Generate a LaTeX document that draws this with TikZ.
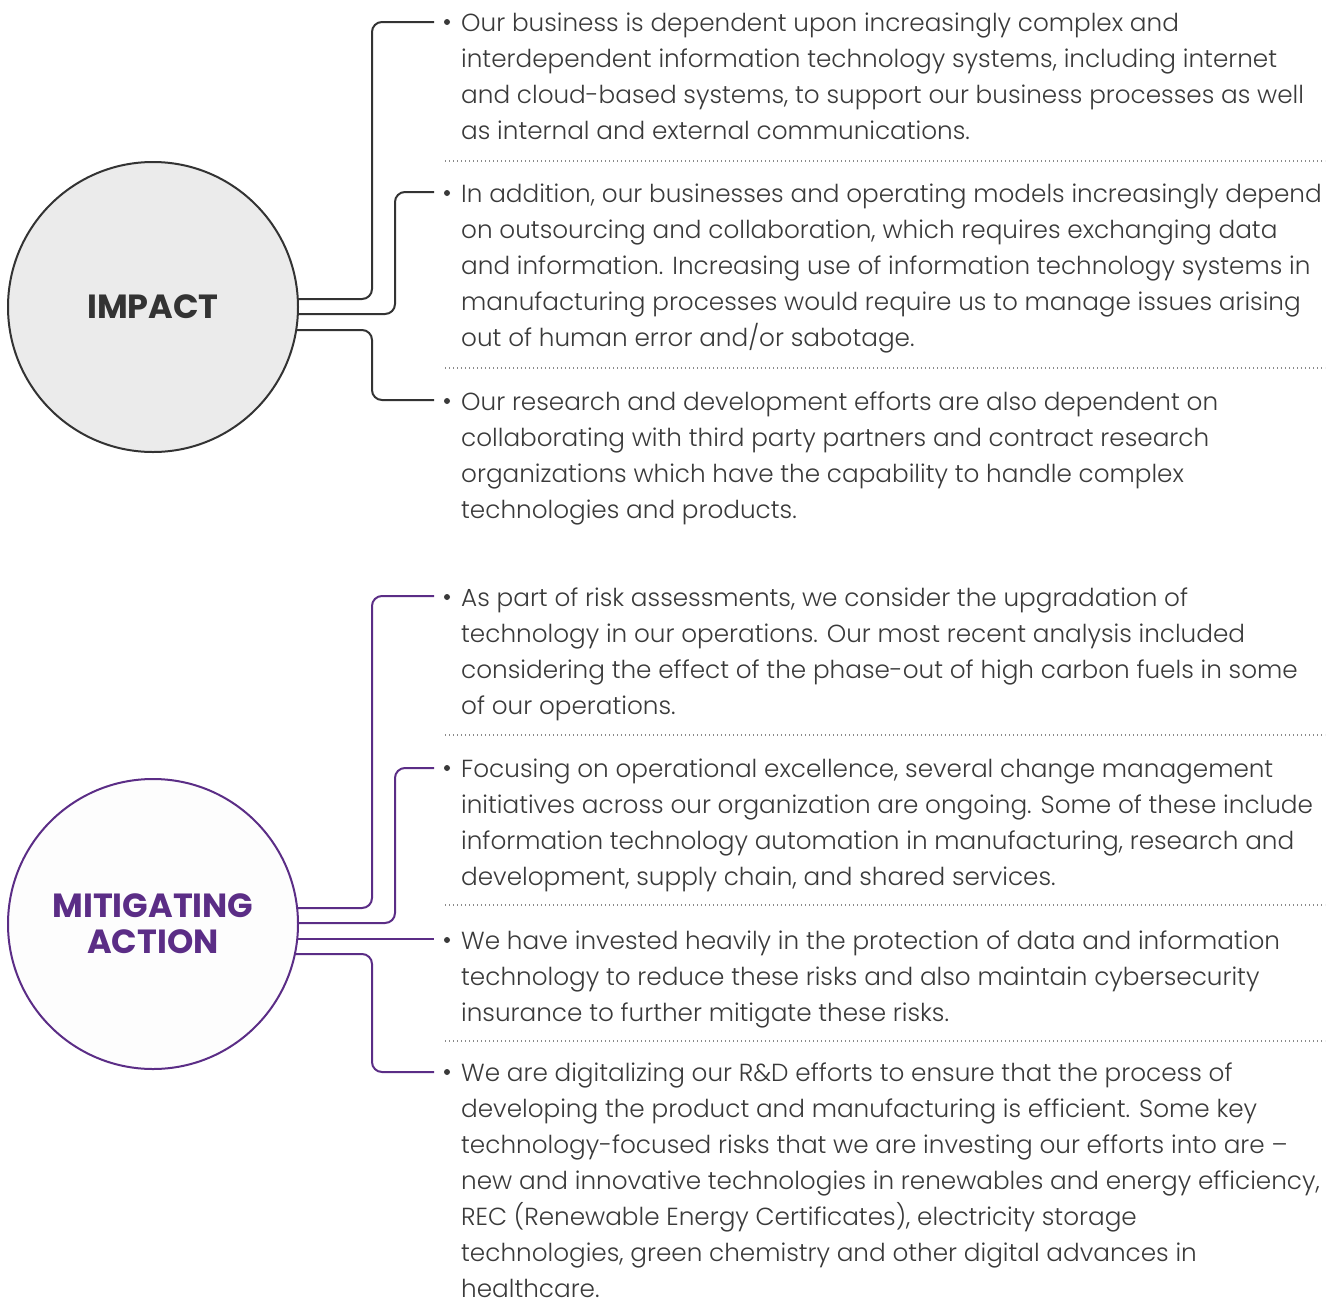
\documentclass[tikz,border=0pt]{standalone}
\usepackage{fontspec}
\IfFontExistsTF{Poppins Light}{\newfontfamily\bodyfont{Poppins Light}}{\newfontfamily\bodyfont{Poppins}}
\IfFontExistsTF{Poppins Bold}{\newfontfamily\headfont{Poppins Bold}}{\newfontfamily\headfont{Poppins}[UprightFont=*Bold]}
\definecolor{ink}{HTML}{333333}
\definecolor{txt}{HTML}{3A3A3A}
\definecolor{purp}{HTML}{5B2D86}
\definecolor{impfill}{HTML}{EBEBEB}
\definecolor{mitfill}{HTML}{FDFDFD}
\definecolor{dotc}{HTML}{8A8A8A}
\pgfdeclarelayer{bg}
\pgfsetlayers{bg,main}
\newcommand\mystrut{\vrule height 20pt width 0pt}
\begin{document}
\begin{tikzpicture}[x=1pt,y=-1pt,
  blk/.style={anchor=north west, inner sep=0pt, align=left,
    font=\bodyfont\fontsize{24.7}{36}\selectfont, text=txt},
  dot/.style={circle, fill=txt, inner sep=0pt, minimum size=6pt},
  conn/.style={line width=2pt, rounded corners=10pt},
  sep/.style={dotc, line width=1.2pt, dash pattern=on 1.2pt off 2.8pt},
  hub/.style={circle, minimum size=290pt, inner sep=0pt, line width=2pt, align=center}]
\useasboundingbox (0,0) rectangle (1333,1301);

% hubs
\node[hub, draw=ink, fill=impfill, text=ink,
  font=\headfont\fontsize{33.5}{36}\selectfont] (imp) at (153,307) {IMPACT};
\node[hub, draw=purp, fill=mitfill, text=purp,
  font=\headfont\fontsize{33.5}{36}\selectfont] (mit) at (153,924) {MITIGATING\\ACTION};

% text blocks (first baseline = y + 20)
\node[blk] (t1) at (461,11) {\mystrut Our business is dependent upon increasingly complex and\\
interdependent information technology systems, including internet\\
and cloud-based systems, to support our business processes as well\\
as internal and external communications.};
\node[blk] (t2) at (461,182) {\mystrut In addition, our businesses and operating models increasingly depend\\
on outsourcing and collaboration, which requires exchanging data\\
and information. Increasing use of information technology systems in\\
manufacturing processes would require us to manage issues arising\\
out of human error and/or sabotage.};
\node[blk] (t3) at (461,390) {\mystrut Our research and development efforts are also dependent on\\
collaborating with third party partners and contract research\\
organizations which have the capability to handle complex\\
technologies and products.};
\node[blk] (t4) at (461,586) {\mystrut As part of risk assessments, we consider the upgradation of\\
technology in our operations. Our most recent analysis included\\
considering the effect of the phase-out of high carbon fuels in some\\
of our operations.};
\node[blk] (t5) at (461,757) {\mystrut Focusing on operational excellence, several change management\\
initiatives across our organization are ongoing. Some of these include\\
information technology automation in manufacturing, research and\\
development, supply chain, and shared services.};
\node[blk] (t6) at (461,929) {\mystrut We have invested heavily in the protection of data and information\\
technology to reduce these risks and also maintain cybersecurity\\
insurance to further mitigate these risks.};
\node[blk] (t7) at (461,1061) {\mystrut We are digitalizing our R\&D efforts to ensure that the process of\\
developing the product and manufacturing is efficient. Some key\\
technology-focused risks that we are investing our efforts into are –\\
new and innovative technologies in renewables and energy efficiency,\\
REC (Renewable Energy Certificates), electricity storage\\
technologies, green chemistry and other digital advances in\\
healthcare.};

% bullets
\node[dot] (d1) at (447,22) {};
\node[dot] (d2) at (447,193) {};
\node[dot] (d3) at (447,401) {};
\node[dot] (d4) at (447,597) {};
\node[dot] (d5) at (447,768) {};
\node[dot] (d6) at (447,940) {};
\node[dot] (d7) at (447,1072) {};

% connector ends
\coordinate (e1) at (434,22);
\coordinate (e2) at (434,192);
\coordinate (e3) at (434,400);
\coordinate (e4) at (434,596);
\coordinate (e5) at (434,768);
\coordinate (e6) at (434,939);
\coordinate (e7) at (434,1072);

\begin{pgfonlayer}{bg}
\draw[conn, ink] (imp.center |- 0,299) -| (372,22) -- (e1);
\draw[conn, ink] (imp.center |- 0,314) -| (395,192) -- (e2);
\draw[conn, ink] (imp.center |- 0,330) -| (372,400) -- (e3);
\draw[conn, purp] (mit.center |- 0,908) -| (372,596) -- (e4);
\draw[conn, purp] (mit.center |- 0,923) -| (395,768) -- (e5);
\draw[conn, purp] (mit.center |- 0,939) -- (e6);
\draw[conn, purp] (mit.center |- 0,954) -| (372,1072) -- (e7);
\end{pgfonlayer}

% dotted separators
\draw[sep] (445,161) -- (1325,161);
\draw[sep] (445,368) -- (1325,368);
\draw[sep] (445,735) -- (1325,735);
\draw[sep] (445,905) -- (1325,905);
\draw[sep] (445,1041) -- (1325,1041);
\end{tikzpicture}
\end{document}
